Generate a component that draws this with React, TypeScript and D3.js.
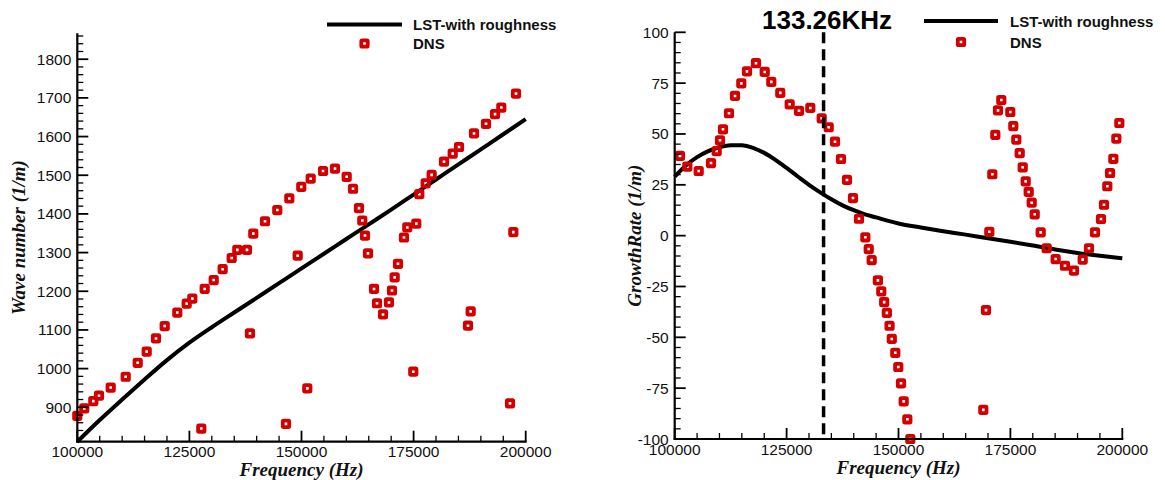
import React from "react";
import * as d3 from "d3";

// ---------- data ----------
const lstFreqLeft = [100000, 105000, 110000, 115000, 120000, 125000, 130000, 135000, 140000, 145000, 150000, 155000, 160000, 165000, 170000, 175000, 180000, 185000, 190000, 195000, 200000];
const lstWaveNumber = [811, 867, 920, 972, 1022, 1067, 1107, 1145, 1183, 1221, 1259, 1297, 1335, 1373, 1411, 1450, 1489, 1528, 1567, 1606, 1645];

const dnsFreqLeft = [100000, 101560, 103570, 104840, 107450, 110790, 113470, 115480, 117550, 119490, 122300, 124400, 125650, 127650, 128410, 130420, 132420, 134430, 135680, 137840, 138510, 139250, 141860, 144600, 146540, 147280, 149150, 149950, 151290, 152050, 154800, 157470, 160080, 161490, 162820, 163560, 164160, 164830, 166170, 166840, 168180, 169510, 170180, 170780, 171520, 172850, 173590, 174930, 175600, 176270, 177700, 179030, 181780, 183720, 185130, 187130, 187730, 188470, 191150, 193160, 194560, 196500, 197240, 197840];
const dnsWaveNumber = [878, 897, 916, 930, 951, 979, 1015, 1044, 1078, 1110, 1145, 1168, 1181, 845, 1206, 1229, 1257, 1286, 1307, 1307, 1091, 1349, 1381, 1410, 857, 1440, 1292, 1470, 949, 1491, 1511, 1517, 1496, 1465, 1415, 1383, 1344, 1298, 1206, 1169, 1140, 1171, 1202, 1236, 1271, 1339, 1365, 992, 1375, 1451, 1479, 1501, 1535, 1556, 1573, 1111, 1148, 1608, 1633, 1658, 1675, 910, 1353, 1711];

const lstFreqRight = [100000, 102500, 105000, 107500, 110000, 112500, 115000, 117500, 120000, 122500, 125000, 127500, 130000, 132500, 135000, 137500, 140000, 142500, 145000, 147500, 150000, 155000, 160000, 165000, 170000, 175000, 180000, 185000, 190000, 195000, 200000];
const lstGrowthRate = [29, 34.5, 38.6, 41.6, 43.5, 44.5, 44.4, 43.2, 40.7, 37.3, 33.3, 29.1, 25, 21.3, 17.9, 14.9, 12.5, 10.5, 9, 7.4, 6, 4, 2.2, 0.5, -1.3, -3, -4.8, -6.8, -8.5, -9.9, -11.1];

const dnsFreqRight = [101180, 102820, 105360, 108110, 109380, 110120, 110790, 112130, 113470, 114880, 116150, 118160, 120110, 121580, 123590, 125690, 127770, 130300, 132840, 134410, 135810, 137150, 138490, 139830, 141170, 142590, 143350, 144010, 145400, 146150, 146800, 147400, 148000, 148500, 149280, 149950, 150560, 151160, 151970, 152640, 168950, 169550, 170290, 170960, 171630, 172230, 172970, 174980, 175650, 176320, 177080, 177750, 178420, 179090, 179760, 180430, 181770, 183100, 185110, 187190, 189200, 191150, 192560, 193900, 195240, 195910, 196650, 197260, 198000, 198670, 199340];
const dnsGrowthRate = [39.2, 33.9, 31.8, 35.7, 41.6, 46.9, 52.3, 60.2, 68.7, 74.9, 80.8, 84.8, 80.5, 75.6, 70.2, 64.6, 61.4, 62.8, 57.7, 53.3, 46.2, 37.7, 27.4, 18.5, 8.3, -0.8, -6.6, -12, -22, -27.4, -32.7, -38, -44.3, -50.8, -57.6, -64.6, -72.6, -81.5, -90.3, -100, -85.7, -36.6, 1.9, 30.2, 49.6, 61.6, 66.7, 60.8, 53.9, 47.2, 40.6, 33.6, 26.7, 21.5, 16.2, 10.5, 1.6, -6.2, -11.5, -14.8, -17.2, -11.8, -6.2, 1.6, 8.2, 15.2, 24.3, 30.8, 37.8, 47.7, 55.4];

const xTickValues = [100000, 125000, 150000, 175000, 200000];
const leftYTickValues = [900, 1000, 1100, 1200, 1300, 1400, 1500, 1600, 1700, 1800];
const rightYTickValues = [-100, -75, -50, -25, 0, 25, 50, 75, 100];
const markFreq = 133260;
const markLabel = "133.26KHz";
const legendLine = "LST-with roughness";
const legendDots = "DNS";

// ---------- styles ----------
const RED = "#d20000";
const SANS = "'Liberation Sans', Arial, sans-serif";
const SERIF = "'Liberation Serif', 'Times New Roman', serif";

type Props = {
  xRange: [number, number];
  yDomain: [number, number];
  yRange: [number, number];
  yMajor: number[];
  yMinorStep: number;
  lineX: number[];
  lineY: number[];
  dotX: number[];
  dotY: number[];
  yTitle: string;
  yTitleX: number;
  xTitleY: number;
  legend: { lineX0: number; lineX1: number; textX: number; y1: number; y2: number };
  mark?: number;
};

function Marker({ x, y }: { x: number; y: number }) {
  return (
    <rect x={x - 3.2} y={y - 3.2} width={6.4} height={6.4} fill="none" stroke={RED} strokeWidth={3.8} rx={0.8} strokeLinejoin="round" />
  );
}

function Panel(p: Props) {
  const x = d3.scaleLinear().domain([100000, 200000]).range(p.xRange);
  const y = d3.scaleLinear().domain(p.yDomain).range(p.yRange);
  const x0 = p.xRange[0];
  const y0 = p.yRange[0];
  const xMinor = d3.range(100000, 200001, 5000).filter((v) => v % 25000 !== 0);
  const yMinor = d3
    .range(Math.ceil(p.yDomain[0] / p.yMinorStep) * p.yMinorStep, p.yDomain[1] + 0.001, p.yMinorStep)
    .filter((v) => !p.yMajor.some((m) => Math.abs(m - v) < 1e-6));
  const line = d3
    .line<number>()
    .x((_, i) => x(p.lineX[i]))
    .y((d) => y(d))
    .curve(d3.curveMonotoneX);
  const cx = (p.xRange[0] + p.xRange[1]) / 2;
  const cy = (p.yRange[0] + p.yRange[1]) / 2;
  return (
    <g>
      {/* LST line */}
      <path d={line(p.lineY) || ""} fill="none" stroke="#000" strokeWidth={4} strokeLinejoin="round" />
      {/* DNS markers */}
      {p.dotX.map((f, i) => (
        <Marker key={i} x={x(f)} y={y(p.dotY[i])} />
      ))}
      {/* marker line */}
      {p.mark !== undefined && (
        <g>
          <line x1={x(p.mark)} x2={x(p.mark)} y1={p.yRange[1]} y2={p.yRange[0]} stroke="#000" strokeWidth={3.5} strokeDasharray="11 6" />
          <text x={762} y={29} fontFamily={SANS} fontWeight="bold" fontSize={26} fill="#000">
            {markLabel}
          </text>
        </g>
      )}
      {/* axes */}
      <line x1={x0} x2={x0} y1={p.yRange[1]} y2={y0 + 1} stroke="#000" strokeWidth={2.2} />
      <line x1={x0 - 1} x2={p.xRange[1] + 1} y1={y0} y2={y0} stroke="#000" strokeWidth={2.2} />
      {xTickValues.map((v) => (
        <g key={"xt" + v}>
          <line x1={x(v)} x2={x(v)} y1={y0} y2={y0 - 11} stroke="#000" strokeWidth={1.8} />
          <text x={x(v)} y={y0 + 10} textAnchor="middle" dominantBaseline="central" fontFamily={SANS} fontSize={15.5} fill="#111">
            {v}
          </text>
        </g>
      ))}
      {xMinor.map((v) => (
        <line key={"xm" + v} x1={x(v)} x2={x(v)} y1={y0} y2={y0 - 6} stroke="#000" strokeWidth={1.3} />
      ))}
      {p.yMajor.map((v) => (
        <g key={"yt" + v}>
          <line x1={x0} x2={x0 + 11} y1={y(v)} y2={y(v)} stroke="#000" strokeWidth={1.8} />
          <text x={x0 - 6} y={y(v)} textAnchor="end" dominantBaseline="central" fontFamily={SANS} fontSize={15.5} fill="#111">
            {v}
          </text>
        </g>
      ))}
      {yMinor.map((v) => (
        <line key={"ym" + v} x1={x0} x2={x0 + 6} y1={y(v)} y2={y(v)} stroke="#000" strokeWidth={1.3} />
      ))}
      {/* titles */}
      <text x={cx} y={p.xTitleY} textAnchor="middle" fontFamily={SERIF} fontWeight="bold" fontStyle="italic" fontSize={19} fill="#111">
        Frequency (Hz)
      </text>
      <text
        transform={`translate(${p.yTitleX},${cy}) rotate(-90)`}
        textAnchor="middle"
        fontFamily={SERIF}
        fontWeight="bold"
        fontStyle="italic"
        fontSize={19}
        fill="#111"
      >
        {p.yTitle}
      </text>
      {/* legend */}
      <line x1={p.legend.lineX0} x2={p.legend.lineX1} y1={p.legend.y1} y2={p.legend.y1} stroke="#000" strokeWidth={4} />
      <text x={p.legend.textX} y={p.legend.y1} dominantBaseline="central" fontFamily={SANS} fontWeight="bold" fontSize={15} fill="#111">
        {legendLine}
      </text>
      <Marker x={(p.legend.lineX0 + p.legend.lineX1) / 2} y={p.legend.y2} />
      <text x={p.legend.textX} y={p.legend.y2} dominantBaseline="central" fontFamily={SANS} fontWeight="bold" fontSize={15} fill="#111">
        {legendDots}
      </text>
    </g>
  );
}

export default function App() {
  return (
    <svg width={1165} height={480} style={{ position: "absolute", left: 0, top: 0, background: "#fff" }}>
      <rect width={1165} height={480} fill="#fff" />
      <Panel
        xRange={[77.3, 525.7]}
        yDomain={[811, 1867]}
        yRange={[441.7, 33.3]}
        yMajor={leftYTickValues}
        yMinorStep={20}
        lineX={lstFreqLeft}
        lineY={lstWaveNumber}
        dotX={dnsFreqLeft}
        dotY={dnsWaveNumber}
        yTitle="Wave number (1/m)"
        yTitleX={25}
        xTitleY={476}
        legend={{ lineX0: 327, lineX1: 402, textX: 413, y1: 24.5, y2: 43.5 }}
      />
      <Panel
        xRange={[674.7, 1122.3]}
        yDomain={[-100, 100]}
        yRange={[439, 32.3]}
        yMajor={rightYTickValues}
        yMinorStep={5}
        lineX={lstFreqRight}
        lineY={lstGrowthRate}
        dotX={dnsFreqRight}
        dotY={dnsGrowthRate}
        yTitle="GrowthRate (1/m)"
        yTitleX={641}
        xTitleY={474}
        legend={{ lineX0: 924, lineX1: 998, textX: 1010, y1: 21, y2: 42 }}
        mark={markFreq}
      />
    </svg>
  );
}
